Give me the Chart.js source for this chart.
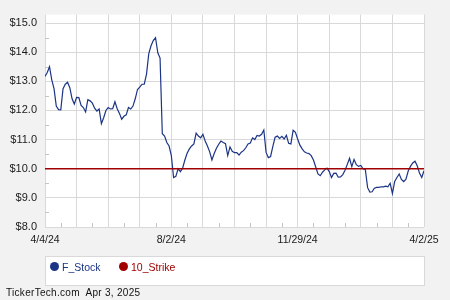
<!DOCTYPE html>
<html>
<head>
<meta charset="utf-8">
<script src="https://cdn.jsdelivr.net/npm/chart.js@4.4.1/dist/chart.umd.min.js"></script>
<style>
  html, body { margin: 0; padding: 0; background: #f2f2f2; }
  #wrap { position: relative; width: 450px; height: 300px; font-family: "Liberation Sans", Arial, sans-serif; }
  #chart { position: absolute; left: 0; top: 0; }
  #legend { position: absolute; left: 45px; top: 256px; width: 380px; height: 30px; box-sizing: border-box;
            background: #fff; border: 1px solid #d9d9d9; }
  .item { position: absolute; top: 4px; font-size: 10.5px; line-height: 12px; }
  .dot { position: absolute; top: 1px; width: 9px; height: 9px; border-radius: 50%; }
  #footer { position: absolute; left: 6px; top: 287px; font-size: 10px; letter-spacing: 0.3px; color: #111; white-space: pre; }
</style>
</head>
<body>
<div id="wrap">
  <canvas id="chart" width="450" height="300"></canvas>
  <div id="legend"></div>
  <div id="footer">TickerTech.com  Apr 3, 2025</div>
</div>
<script>
// F closing prices, one value per step of the index axis (4/4/24 .. 4/2/25)
const prices = [
  13.17, 13.30, 13.50, 13.05, 12.75, 12.15, 12.03, 12.02, 12.75, 12.90,
  12.97, 12.78, 12.40, 12.22, 12.45, 12.44, 12.17, 12.10, 11.95, 12.37,
  12.33, 12.25, 12.08, 11.98, 12.05, 11.55, 11.75, 12.00, 12.10, 12.05,
  12.06, 12.30, 12.06, 11.90, 11.70, 11.80, 11.85, 12.10, 12.05, 12.15,
  12.40, 12.72, 12.80, 12.90, 12.90, 13.25, 13.95, 14.22, 14.40, 14.50,
  13.98, 13.80, 11.20, 11.12, 10.90, 10.78, 10.45, 9.70, 9.74, 10.00,
  9.90, 10.02, 10.30, 10.53, 10.68, 10.78, 10.85, 11.22, 11.12, 11.06,
  11.18, 10.95, 10.78, 10.58, 10.30, 10.52, 10.70, 10.84, 10.95, 10.90,
  10.86, 10.45, 10.75, 10.60, 10.55, 10.55, 10.47, 10.57, 10.62, 10.72,
  10.85, 10.88, 11.06, 11.00, 11.14, 11.12, 11.18, 11.33, 10.56, 10.38,
  10.42, 10.77, 11.08, 11.12, 11.04, 11.11, 11.02, 11.15, 10.87, 10.85,
  11.32, 11.25, 11.02, 10.81, 10.68, 10.58, 10.54, 10.52, 10.45, 10.30,
  10.06, 9.82, 9.76, 9.88, 9.96, 10.02, 9.90, 9.70, 9.84, 9.85,
  9.71, 9.72, 9.80, 9.95, 10.15, 10.36, 10.07, 10.32, 10.14, 10.08,
  10.11, 10.00, 9.97, 9.35, 9.20, 9.21, 9.33, 9.36, 9.36, 9.38,
  9.38, 9.40, 9.38, 9.50, 9.15, 9.56, 9.70, 9.82, 9.63, 9.56,
  9.64, 9.92, 10.08, 10.20, 10.26, 10.10, 9.85, 9.70, 9.93
];
const strike = 10;
const xLabels = ['4/4/24', '8/2/24', '11/29/24', '4/2/25'];
const yTicks = [8, 9, 10, 11, 12, 13, 14, 15];
const seriesNames = ['F_Stock', '10_Strike'];
const seriesColors = ['#1c3485', '#a00000'];

const last = prices.length - 1;
const labelStep = last / (xLabels.length - 1);
const gridColor = '#d9d9d9';
const fontFamily = '"Liberation Sans", Arial, sans-serif';

// white plot area
const plotBg = {
  id: 'plotBg',
  beforeDraw(chart) {
    const { ctx, chartArea: a } = chart;
    ctx.save();
    ctx.fillStyle = '#fff';
    ctx.fillRect(a.left, a.top, a.right - a.left, a.bottom - a.top);
    ctx.restore();
  }
};

// small ticks between the grid lines
const minorTicks = {
  id: 'minorTicks',
  beforeDatasetsDraw(chart) {
    const { ctx, chartArea: a, scales: { x, y } } = chart;
    ctx.save();
    ctx.strokeStyle = '#c4c4c4';
    ctx.lineWidth = 1;
    ctx.beginPath();
    for (let v = labelStep / 8; v < last; v += labelStep / 4) {
      const px = Math.round(x.getPixelForValue(v)) + 0.5;
      ctx.moveTo(px, a.bottom);
      ctx.lineTo(px, a.bottom - 4);
    }
    for (let i = 0; i < yTicks.length - 1; i++) {
      const py = Math.round(y.getPixelForValue(yTicks[i] + 0.5)) + 0.5;
      ctx.moveTo(a.left, py);
      ctx.lineTo(a.left + 4, py);
    }
    ctx.stroke();
    ctx.restore();
  }
};

new Chart(document.getElementById('chart'), {
  type: 'line',
  data: {
    datasets: [{
      label: seriesNames[0],
      data: prices.map((p, i) => ({ x: i, y: p })),
      borderColor: seriesColors[0],
      borderWidth: 1.2,
      pointRadius: 0,
      tension: 0,
      order: 2
    }, {
      label: seriesNames[1],
      data: [{ x: 0, y: strike }, { x: last, y: strike }],
      borderColor: seriesColors[1],
      borderWidth: 1.5,
      pointRadius: 0,
      order: 1
    }]
  },
  options: {
    responsive: false,
    animation: false,
    layout: { padding: { top: 2, right: 26, left: 0, bottom: 0 } },
    plugins: { legend: { display: false }, tooltip: { enabled: false } },
    scales: {
      x: {
        type: 'linear',
        min: 0,
        max: last,
        afterFit: s => { s.height = 73; },
        afterBuildTicks: s => {
          s.ticks = [];
          for (let v = 0; v <= last + 0.001; v += labelStep / 4) s.ticks.push({ value: v });
        },
        grid: { color: gridColor, lineWidth: 1, drawTicks: false },
        border: { display: false },
        ticks: {
          autoSkip: false,
          maxRotation: 0,
          padding: 7,
          color: '#1a1a1a',
          font: { family: fontFamily, size: 10.5 },
          callback: v => {
            const k = v / labelStep;
            return Math.abs(k - Math.round(k)) < 1e-6 ? xLabels[Math.round(k)] : '';
          }
        }
      },
      y: {
        min: yTicks[0],
        max: 15.29,
        afterFit: s => { s.width = 45; },
        afterBuildTicks: s => { s.ticks = yTicks.map(v => ({ value: v })); },
        grid: { color: gridColor, lineWidth: 1, drawTicks: false },
        border: { display: false },
        ticks: {
          padding: 8,
          color: '#1a1a1a',
          font: { family: fontFamily, size: 11 },
          callback: v => '$' + v.toFixed(1)
        }
      }
    }
  },
  plugins: [plotBg, minorTicks]
});

// legend
const legend = document.getElementById('legend');
const legendX = [4, 73];
seriesNames.forEach((name, i) => {
  const item = document.createElement('div');
  item.className = 'item';
  item.style.left = legendX[i] + 'px';
  item.style.color = seriesColors[i];
  item.innerHTML = '<span class="dot" style="left:0;background:' + seriesColors[i] + '"></span>'
    + '<span style="margin-left:12px">' + name + '</span>';
  legend.appendChild(item);
});
</script>
</body>
</html>
